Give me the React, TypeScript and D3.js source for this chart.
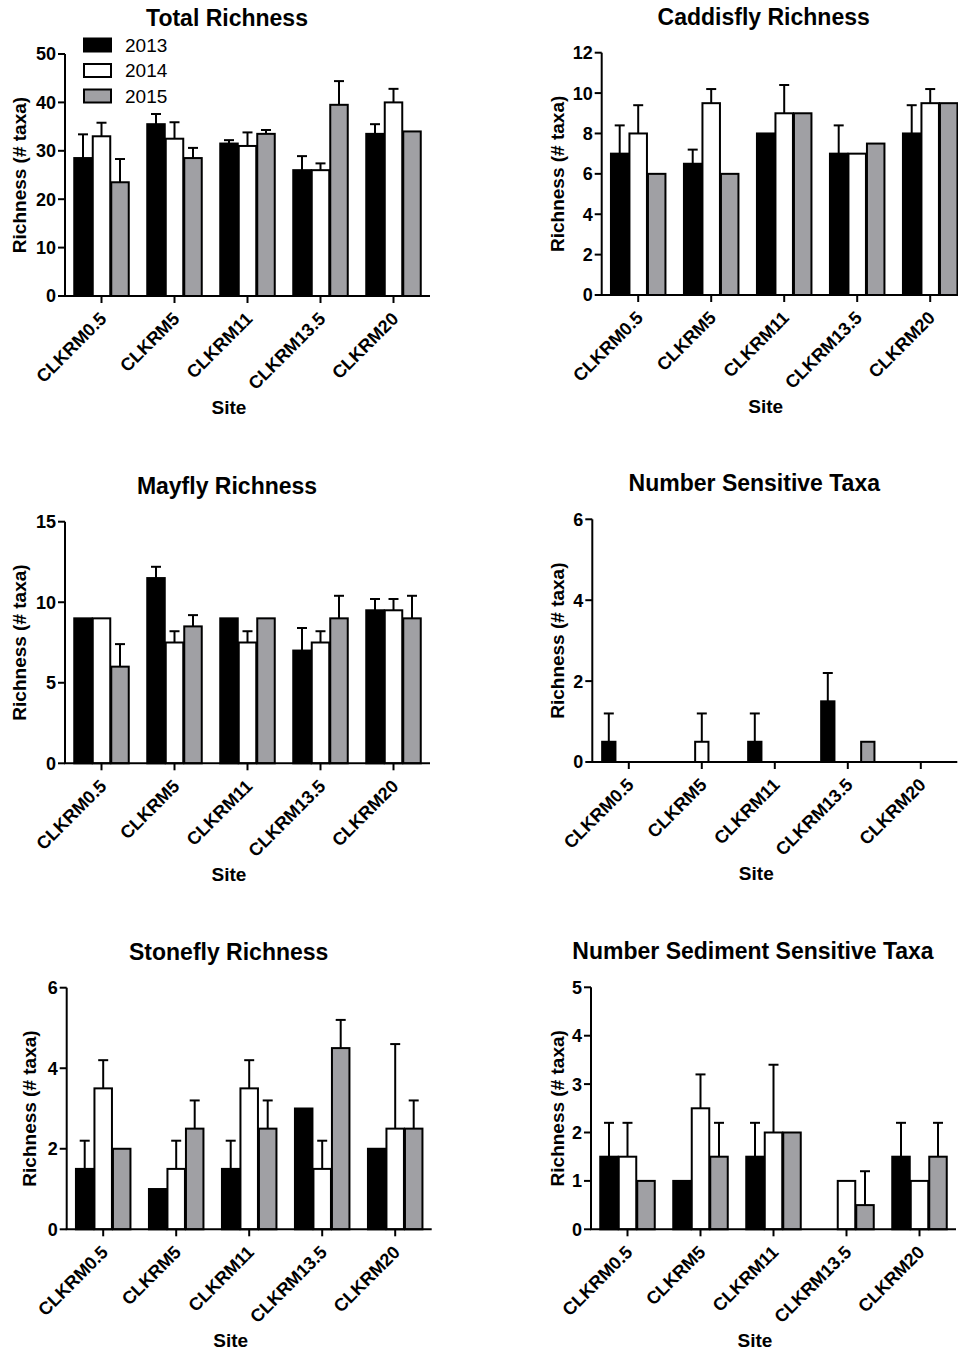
import * as d3 from "d3";

// six bar panels, mean + upper SE per site and year

const sites = ["CLKRM0.5", "CLKRM5", "CLKRM11", "CLKRM13.5", "CLKRM20"];
const years = ["2013", "2014", "2015"];
const yearFill = ["#000000", "#ffffff", "#a0a0a4"];

// [site][year]
const totalMeans = [[28.5, 33, 23.5], [35.5, 32.5, 28.5], [31.5, 31, 33.5], [26, 26, 39.5], [33.5, 40, 34]];
const totalSE = [[4.9, 2.8, 4.8], [2.1, 3.4, 2.1], [0.7, 2.8, 0.8], [2.9, 1.4, 4.9], [2.0, 2.8, 0]];

const caddisMeans = [[7, 8, 6], [6.5, 9.5, 6], [8, 9, 9], [7, 7, 7.5], [8, 9.5, 9.5]];
const caddisSE = [[1.4, 1.4, 0], [0.7, 0.7, 0], [0, 1.4, 0], [1.4, 0, 0], [1.4, 0.7, 0]];

const mayflyMeans = [[9, 9, 6], [11.5, 7.5, 8.5], [9, 7.5, 9], [7, 7.5, 9], [9.5, 9.5, 9]];
const mayflySE = [[0, 0, 1.4], [0.7, 0.7, 0.7], [0, 0.7, 0], [1.4, 0.7, 1.4], [0.7, 0.7, 1.4]];

const sensitiveMeans = [[0.5, 0, 0], [0, 0.5, 0], [0.5, 0, 0], [1.5, 0, 0.5], [0, 0, 0]];
const sensitiveSE = [[0.7, 0, 0], [0, 0.7, 0], [0.7, 0, 0], [0.7, 0, 0], [0, 0, 0]];

const stoneflyMeans = [[1.5, 3.5, 2], [1, 1.5, 2.5], [1.5, 3.5, 2.5], [3, 1.5, 4.5], [2, 2.5, 2.5]];
const stoneflySE = [[0.7, 0.7, 0], [0, 0.7, 0.7], [0.7, 0.7, 0.7], [0, 0.7, 0.7], [0, 2.1, 0.7]];

const sedimentMeans = [[1.5, 1.5, 1], [1, 2.5, 1.5], [1.5, 2, 2], [0, 1, 0.5], [1.5, 1, 1.5]];
const sedimentSE = [[0.7, 0.7, 0], [0, 0.7, 0.7], [0.7, 1.4, 0], [0, 0, 0.7], [0.7, 0, 0.7]];

const panels = [
  { title: "Total Richness", means: totalMeans, se: totalSE, max: 50, step: 10, ax: 65, top: 54, zero: 296, labelX: 19, legend: true },
  { title: "Caddisfly Richness", means: caddisMeans, se: caddisSE, max: 12, step: 2, ax: 601.7, top: 52.7, zero: 295, labelX: 556.7 },
  { title: "Mayfly Richness", means: mayflyMeans, se: mayflySE, max: 15, step: 5, ax: 65, top: 521.7, zero: 763.3, labelX: 19 },
  { title: "Number Sensitive Taxa", means: sensitiveMeans, se: sensitiveSE, max: 6, step: 2, ax: 592.3, top: 519.3, zero: 762, labelX: 556.7, barW: 13.3, barOff: 20 },
  { title: "Stonefly Richness", means: stoneflyMeans, se: stoneflySE, max: 6, step: 2, ax: 66.7, top: 987.7, zero: 1229.3, labelX: 29 },
  { title: "Number Sediment Sensitive Taxa", means: sedimentMeans, se: sedimentSE, max: 5, step: 1, ax: 591, top: 987.3, zero: 1229.3, labelX: 556.7 },
];

const font = "'Liberation Sans', Arial, Helvetica, sans-serif";

function Panel({ p }: { p: any }) {
  const x = d3.scaleBand<string>().domain(sites).range([p.ax, p.ax + 365]);
  const y = d3.scaleLinear().domain([0, p.max]).range([p.zero, p.top]);
  const barW = p.barW ?? 17.5;
  const off = p.barOff ?? 18.5;
  const x1 = d3.scaleLinear().domain([0, 2]).range([-off, off]);
  const ticks = d3.range(0, p.max + 0.001, p.step);
  const cap = 5;

  return (
    <g>
      <text x={p.ax + 162} y={p.top - 28} textAnchor="middle" fontWeight="bold" fontSize={23}>
        {p.title}
      </text>

      {/* bars */}
      {sites.map((s, i) =>
        years.map((yr, j) => {
          const v = p.means[i][j];
          if (!v) return null;
          const cx = x(s)! + x.bandwidth() / 2 + x1(j);
          return (
            <rect key={s + yr} x={cx - barW / 2} y={y(v)} width={barW} height={p.zero - y(v)}
              fill={yearFill[j]} stroke="#000" strokeWidth={2} />
          );
        })
      )}

      {/* error bars, upper only */}
      {sites.map((s, i) =>
        years.map((yr, j) => {
          const v = p.means[i][j];
          const e = p.se[i][j];
          if (!e) return null;
          const cx = x(s)! + x.bandwidth() / 2 + x1(j);
          return (
            <g key={"e" + s + yr} stroke="#000" strokeWidth={2}>
              <line x1={cx} x2={cx} y1={y(v)} y2={y(v + e)} />
              <line x1={cx - cap} x2={cx + cap} y1={y(v + e)} y2={y(v + e)} />
            </g>
          );
        })
      )}

      {/* y axis */}
      <line x1={p.ax} x2={p.ax} y1={p.zero} y2={p.top} stroke="#000" strokeWidth={2} />
      {ticks.map((t) => (
        <g key={t}>
          <line x1={p.ax - 7} x2={p.ax} y1={y(t)} y2={y(t)} stroke="#000" strokeWidth={2} />
          <text x={p.ax - 9} y={y(t)} dy="0.36em" textAnchor="end" fontWeight="bold" fontSize={18}>
            {t}
          </text>
        </g>
      ))}
      <text transform={`translate(${p.labelX + 7},${(p.top + p.zero) / 2}) rotate(-90)`}
        textAnchor="middle" fontWeight="bold" fontSize={19}>
        Richness (# taxa)
      </text>

      {/* x axis */}
      <line x1={p.ax - 1} x2={p.ax + 365} y1={p.zero} y2={p.zero} stroke="#000" strokeWidth={2} />
      {sites.map((s) => {
        const cx = x(s)! + x.bandwidth() / 2;
        return (
          <g key={s}>
            <line x1={cx} x2={cx} y1={p.zero} y2={p.zero + 7} stroke="#000" strokeWidth={2} />
            <text transform={`translate(${cx + 6},${p.zero + 24}) rotate(-45)`} textAnchor="end"
              fontWeight="bold" fontSize={18}>
              {s}
            </text>
          </g>
        );
      })}
      <text x={p.ax + 164} y={p.zero + 118} textAnchor="middle" fontWeight="bold" fontSize={19}>
        Site
      </text>

      {p.legend &&
        years.map((yr, j) => (
          <g key={yr}>
            <rect x={84} y={38.5 + j * 25.5} width={27} height={13} fill={yearFill[j]} stroke="#000" strokeWidth={2} />
            <text x={125} y={51.7 + j * 25.5} fontSize={19}>
              {yr}
            </text>
          </g>
        ))}
    </g>
  );
}

export default function App() {
  return (
    <svg width={958} height={1355} style={{ position: "absolute", left: 0, top: 0, background: "#fff" }}
      fontFamily={font}>
      {panels.map((p) => (
        <Panel key={p.title} p={p} />
      ))}
    </svg>
  );
}
